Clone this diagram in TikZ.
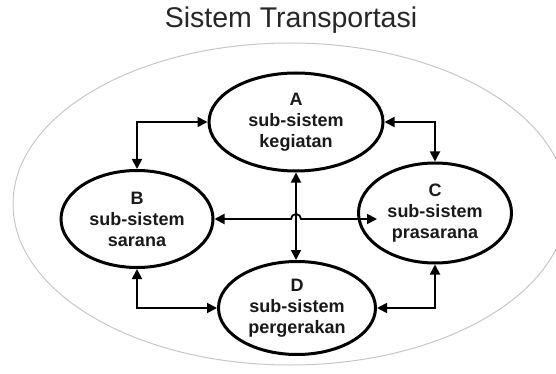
\documentclass[tikz,border=0pt]{standalone}
\usepackage{fontspec}
\setmainfont{Liberation Sans}
\usetikzlibrary{shapes.geometric,arrows.meta,calc}
\tikzset{
  sub/.style={ellipse,draw=black,line width=3pt,inner sep=0pt,align=center,
    font=\fontsize{18pt}{21pt}\selectfont\bfseries,text=black!90},
  conn/.style={line width=1.8pt,{Triangle[length=10pt,width=10pt]}-{Triangle[length=10pt,width=10pt]}},
  outer/.style={draw=black!22,line width=1pt},
}
\begin{document}
\begin{tikzpicture}[x=1pt,y=-1pt]
\useasboundingbox (0,0) rectangle (556,374);
\draw[outer] (290,204) ellipse [x radius=277, y radius=161];
\node[anchor=base,font=\fontsize{28.5pt}{31pt}\selectfont,text=black!85] (title) at (291,28) {Sistem Transportasi};
\node[sub,minimum width=174pt,minimum height=98pt] (A) at (296,122) {A\\sub-sistem\\kegiatan};
\node[sub,minimum width=152pt,minimum height=97pt] (B) at (137,219) {B\\sub-sistem\\sarana};
\node[sub,minimum width=153pt,minimum height=100pt] (C) at (435,213) {C\\sub-sistem\\prasarana};
\node[sub,minimum width=157pt,minimum height=93pt] (D) at (297,308) {D\\sub-sistem\\pergerakan};
\draw[conn] (A.west) -| (B.north);
\draw[conn] (A.east) -| (C.north);
\draw[conn] (B.south) |- (D.west);
\draw[conn] (C.south) |- (D.east);
\draw[conn] (A.south) -- (A.south |- D.north);
\coordinate (Cin) at ($(B.east -| C.west)+(20,0)$);
\coordinate (hump) at ($(B.east -| A.south)+(-5,0)$);
\draw[conn] (B.east) -- (hump) arc[start angle=180,end angle=0,radius=5pt] -- (Cin);
\end{tikzpicture}
\end{document}
